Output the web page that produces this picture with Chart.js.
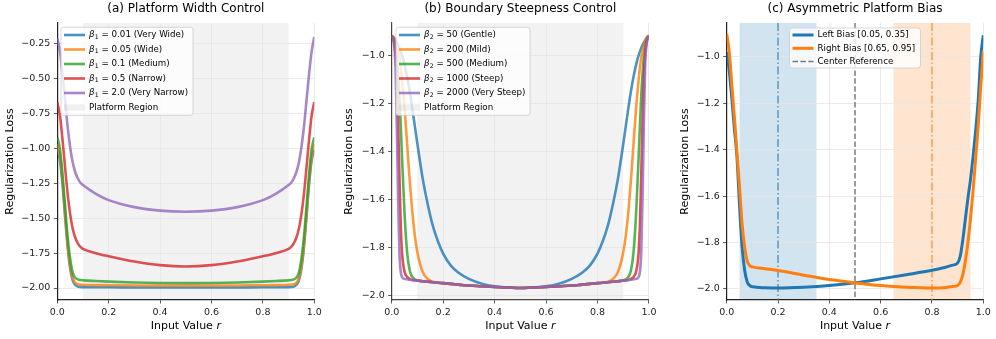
<!DOCTYPE html>
<html>
<head>
<meta charset="utf-8">
<title>Regularization loss panels</title>
<script src="https://cdn.jsdelivr.net/npm/chart.js@4.4.1/dist/chart.umd.min.js"></script>
<style>
  html, body { margin: 0; padding: 0; background: #fff; }
  #wrap { position: relative; width: 996px; height: 339px; }
  canvas { position: absolute; top: 0; }
</style>
</head>
<body>
<div id="wrap">
  <canvas id="panelA" width="330" height="339" style="left:0"></canvas>
  <canvas id="panelB" width="330" height="339" style="left:330px"></canvas>
  <canvas id="panelC" width="336" height="339" style="left:660px"></canvas>
</div>
<script>
// ---- data ----
const xTicks = [0, 0.2, 0.4, 0.6, 0.8, 1.0];
const yTicksA = [-2.0, -1.75, -1.5, -1.25, -1.0, -0.75, -0.5, -0.25];
const yTicksBC = [-2.0, -1.8, -1.6, -1.4, -1.2, -1.0];
const platformRange = [0.1, 0.9];

// (a) platform width
const betaOneVals = ['0.01', '0.05', '0.1', '0.5', '2.0'];
const betaOneNames = ['Very Wide', 'Wide', 'Medium', 'Narrow', 'Very Narrow'];
const rA = [0, 0.01, 0.02, 0.03, 0.04, 0.05, 0.06, 0.07, 0.08, 0.09, 0.1, 0.15, 0.2, 0.3, 0.4, 0.5,
            0.6, 0.7, 0.8, 0.85, 0.9, 0.91, 0.92, 0.93, 0.94, 0.95, 0.96, 0.97, 0.98, 0.99, 1.0];
const lossA001 = [-1.01, -1.08, -1.25, -1.48, -1.70, -1.86, -1.945, -1.978, -1.99, -1.993, -1.994, -1.995, -1.995, -1.996, -1.996, -1.996,
                  -1.996, -1.996, -1.995, -1.995, -1.994, -1.993, -1.99, -1.978, -1.945, -1.86, -1.70, -1.48, -1.25, -1.08, -1.01];
const lossA005 = [-0.97, -1.05, -1.22, -1.46, -1.68, -1.84, -1.93, -1.963, -1.973, -1.976, -1.977, -1.979, -1.98, -1.982, -1.983, -1.983,
                  -1.983, -1.982, -1.98, -1.979, -1.977, -1.976, -1.973, -1.963, -1.93, -1.84, -1.68, -1.46, -1.22, -1.05, -0.97];
const lossA01 = [-0.92, -1.0, -1.18, -1.41, -1.63, -1.79, -1.89, -1.926, -1.938, -1.943, -1.945, -1.95, -1.954, -1.96, -1.964, -1.965,
                 -1.964, -1.96, -1.954, -1.95, -1.945, -1.943, -1.938, -1.926, -1.89, -1.79, -1.63, -1.41, -1.18, -1.0, -0.92];
const lossA05 = [-0.667, -0.76, -0.93, -1.13, -1.32, -1.47, -1.575, -1.64, -1.68, -1.705, -1.72, -1.75, -1.772, -1.81, -1.836, -1.846,
                 -1.836, -1.81, -1.772, -1.75, -1.72, -1.705, -1.68, -1.64, -1.575, -1.47, -1.32, -1.13, -0.93, -0.76, -0.667];
const lossA20 = [-0.21, -0.3, -0.46, -0.65, -0.84, -0.99, -1.1, -1.17, -1.215, -1.245, -1.262, -1.325, -1.37, -1.42, -1.445, -1.453,
                 -1.445, -1.42, -1.37, -1.325, -1.262, -1.245, -1.215, -1.17, -1.1, -0.99, -0.84, -0.65, -0.46, -0.3, -0.2];

// (b) boundary steepness
const betaTwoVals = ['50', '200', '500', '1000', '2000'];
const betaTwoNames = ['Gentle', 'Mild', 'Medium', 'Steep', 'Very Steep'];
const rB = [0, 0.005, 0.01, 0.015, 0.02, 0.025, 0.03, 0.035, 0.04, 0.05, 0.06, 0.07, 0.08, 0.09, 0.1, 0.12, 0.14, 0.16, 0.18, 0.2, 0.23, 0.26, 0.3, 0.35, 0.4, 0.5,
            0.6, 0.65, 0.7, 0.74, 0.77, 0.8, 0.82, 0.84, 0.86, 0.88, 0.9, 0.91, 0.92, 0.93, 0.94, 0.95, 0.96, 0.965, 0.97, 0.975, 0.98, 0.985, 0.99, 0.995, 1.0];
const lossB50 = [-0.92, -0.924, -0.93, -0.938, -0.948, -0.958, -0.97, -0.984, -1.0, -1.04, -1.09, -1.15, -1.22, -1.295, -1.37, -1.51, -1.62, -1.71, -1.775, -1.825, -1.875, -1.905, -1.93, -1.95, -1.961, -1.968,
                 -1.961, -1.95, -1.93, -1.905, -1.875, -1.825, -1.775, -1.71, -1.62, -1.51, -1.37, -1.295, -1.22, -1.15, -1.09, -1.04, -1.0, -0.984, -0.97, -0.958, -0.948, -0.938, -0.93, -0.924, -0.92];
const lossB200 = [-0.92, -0.922, -0.93, -0.945, -0.96, -0.98, -1.01, -1.05, -1.1, -1.22, -1.37, -1.52, -1.65, -1.75, -1.82, -1.9, -1.93, -1.942, -1.946, -1.948, -1.951, -1.954, -1.958, -1.961, -1.964, -1.968,
                  -1.964, -1.961, -1.958, -1.954, -1.951, -1.948, -1.946, -1.942, -1.93, -1.9, -1.82, -1.75, -1.65, -1.52, -1.37, -1.22, -1.1, -1.05, -1.01, -0.98, -0.96, -0.945, -0.93, -0.922, -0.92];
const lossB500 = [-0.92, -0.925, -0.94, -0.97, -1.01, -1.08, -1.17, -1.29, -1.42, -1.66, -1.82, -1.895, -1.922, -1.932, -1.937, -1.94, -1.942, -1.944, -1.946, -1.948, -1.951, -1.954, -1.958, -1.961, -1.964, -1.968,
                  -1.964, -1.961, -1.958, -1.954, -1.951, -1.948, -1.946, -1.944, -1.942, -1.94, -1.937, -1.932, -1.922, -1.895, -1.82, -1.66, -1.42, -1.29, -1.17, -1.08, -1.01, -0.97, -0.94, -0.925, -0.92];
const lossB1000 = [-0.92, -0.93, -0.95, -1.0, -1.1, -1.28, -1.5, -1.7, -1.82, -1.9, -1.922, -1.93, -1.935, -1.936, -1.937, -1.94, -1.942, -1.944, -1.946, -1.948, -1.951, -1.954, -1.958, -1.961, -1.964, -1.968,
                   -1.964, -1.961, -1.958, -1.954, -1.951, -1.948, -1.946, -1.944, -1.942, -1.94, -1.937, -1.936, -1.935, -1.93, -1.922, -1.9, -1.82, -1.7, -1.5, -1.28, -1.1, -1.0, -0.95, -0.93, -0.92];
const lossB2000 = [-0.92, -0.93, -0.96, -1.05, -1.3, -1.6, -1.82, -1.9, -1.922, -1.93, -1.932, -1.934, -1.935, -1.936, -1.937, -1.94, -1.942, -1.944, -1.946, -1.948, -1.951, -1.954, -1.958, -1.961, -1.964, -1.968,
                   -1.964, -1.961, -1.958, -1.954, -1.951, -1.948, -1.946, -1.944, -1.942, -1.94, -1.937, -1.936, -1.935, -1.934, -1.932, -1.93, -1.922, -1.9, -1.82, -1.6, -1.3, -1.05, -0.96, -0.93, -0.92];

// (c) asymmetric platform
const biasLabels = ['Left Bias [0.05, 0.35]', 'Right Bias [0.65, 0.95]', 'Center Reference'];
const leftBiasRange = [0.05, 0.35];
const rightBiasRange = [0.65, 0.95];
const biasCenters = [0.2, 0.8];
const centerRef = 0.5;
const rC = [0, 0.01, 0.02, 0.03, 0.04, 0.05, 0.06, 0.07, 0.08, 0.09, 0.1, 0.15, 0.2, 0.3, 0.4, 0.5,
            0.6, 0.7, 0.8, 0.85, 0.88, 0.9, 0.91, 0.92, 0.93, 0.94, 0.95, 0.96, 0.97, 0.98, 0.99, 1.0];
const lossLeftBias = [-0.98, -1.06, -1.18, -1.31, -1.43, -1.64, -1.82, -1.92, -1.97, -1.986, -1.991, -1.995, -1.996, -1.993, -1.986, -1.974,
                      -1.957, -1.939, -1.92, -1.908, -1.898, -1.888, -1.86, -1.79, -1.7, -1.61, -1.53, -1.43, -1.32, -1.19, -1.0, -0.907];
const lossRightBias = [-0.9, -0.98, -1.12, -1.26, -1.41, -1.56, -1.72, -1.82, -1.88, -1.9, -1.905, -1.913, -1.921, -1.941, -1.96, -1.974,
                       -1.986, -1.993, -1.996, -1.995, -1.99, -1.985, -1.972, -1.94, -1.88, -1.8, -1.7, -1.58, -1.44, -1.3, -1.13, -0.975];

// ---- helpers ----
Chart.defaults.font.family = "'DejaVu Sans', sans-serif";
Chart.defaults.color = '#222';
const FAM = "'DejaVu Sans', sans-serif";
const tab = ['#1f77b4', '#ff7f0e', '#2ca02c', '#d62728', '#9467bd'];

function rgba(hex, a) {
  const n = parseInt(hex.slice(1), 16);
  return 'rgba(' + (n >> 16) + ',' + ((n >> 8) & 255) + ',' + (n & 255) + ',' + a + ')';
}
function fmtTick(v, d) {
  return (v < 0 ? '\u2212' : '') + Math.abs(v).toFixed(d);
}
function pts(xs, ys) {
  return xs.map((x, i) => ({ x: x, y: ys[i] }));
}

// shaded x-ranges, drawn under the grid
const shadePlugin = {
  id: 'shade',
  beforeDraw(chart, args, opts) {
    const { ctx, chartArea: a } = chart;
    const x = chart.scales.x;
    (opts.spans || []).forEach(s => {
      const x0 = x.getPixelForValue(s.from), x1 = x.getPixelForValue(s.to);
      ctx.save();
      ctx.fillStyle = s.color;
      ctx.fillRect(x0, a.top, x1 - x0, a.bottom - a.top);
      ctx.restore();
    });
  }
};

// vertical reference lines
const vlinePlugin = {
  id: 'vlines',
  beforeDatasetsDraw(chart, args, opts) {
    const { ctx, chartArea: a } = chart;
    const x = chart.scales.x;
    (opts.lines || []).forEach(l => {
      const px = x.getPixelForValue(l.at);
      ctx.save();
      ctx.strokeStyle = l.color;
      ctx.lineWidth = l.width;
      ctx.setLineDash(l.dash);
      ctx.beginPath();
      ctx.moveTo(px, a.top);
      ctx.lineTo(px, a.bottom);
      ctx.stroke();
      ctx.restore();
    });
  }
};

// framed legend inside the axes
const boxLegendPlugin = {
  id: 'boxLegend',
  afterDraw(chart, args, o) {
    if (!o.items) return;
    const { ctx, chartArea: a } = chart;
    const left = o.center ? (a.left + a.right) / 2 - o.w / 2 : a.left + o.dx;
    const top = a.top + o.dy;
    ctx.save();
    ctx.fillStyle = 'rgba(255,255,255,0.8)';
    ctx.strokeStyle = '#cccccc';
    ctx.lineWidth = 0.8;
    ctx.beginPath();
    ctx.roundRect(left, top, o.w, o.h, 2.5);
    ctx.fill();
    ctx.stroke();
    o.items.forEach((it, i) => {
      const cy = top + o.first + i * o.step;
      if (it.kind === 'patch') {
        ctx.fillStyle = it.color;
        ctx.fillRect(left + 3, cy - 3.2, 21, 6.4);
      } else {
        ctx.strokeStyle = it.color;
        ctx.lineWidth = it.width;
        ctx.setLineDash(it.dash || []);
        ctx.beginPath();
        ctx.moveTo(left + 3, cy);
        ctx.lineTo(left + 24, cy);
        ctx.stroke();
        ctx.setLineDash([]);
      }
      ctx.fillStyle = '#000';
      ctx.textBaseline = 'middle';
      ctx.textAlign = 'left';
      let tx = left + 28;
      if (it.sym) {
        ctx.font = 'italic 8.7px ' + FAM;
        ctx.fillText(it.sym, tx, cy);
        tx += ctx.measureText(it.sym).width;
        ctx.font = '6.2px ' + FAM;
        ctx.fillText(it.sub, tx + 0.3, cy + 2.3);
        tx += ctx.measureText(it.sub).width + 0.3;
      }
      ctx.font = '8.7px ' + FAM;
      ctx.fillText(it.text, tx, cy);
    });
    ctx.restore();
  }
};

// x-axis title with an italic r
const xTitlePlugin = {
  id: 'xTitle',
  afterDraw(chart) {
    const { ctx, chartArea: a } = chart;
    const plain = 'Input Value ', ital = 'r';
    ctx.save();
    ctx.font = '11px ' + FAM;
    const w1 = ctx.measureText(plain).width;
    ctx.font = 'italic 11px ' + FAM;
    const w2 = ctx.measureText(ital).width;
    let x0 = (a.left + a.right) / 2 - (w1 + w2) / 2;
    ctx.fillStyle = '#000';
    ctx.textBaseline = 'middle';
    ctx.textAlign = 'left';
    ctx.font = '11px ' + FAM;
    ctx.fillText(plain, x0, 326);
    ctx.font = 'italic 11px ' + FAM;
    ctx.fillText(ital, x0 + w1, 326);
    ctx.restore();
  }
};

function buildPanel(id, o) {
  return new Chart(document.getElementById(id), {
    type: 'line',
    data: { datasets: o.datasets },
    options: {
      responsive: false,
      animation: false,
      events: [],
      layout: { padding: { left: o.padLeft, right: o.padRight, top: 0, bottom: 0 } },
      elements: { point: { radius: 0 } },
      scales: {
        x: {
          type: 'linear', min: 0, max: 1,
          afterBuildTicks: s => { s.ticks = xTicks.map(v => ({ value: v })); },
          afterFit: s => { s.height = 39; },
          ticks: { font: { size: 9.5 }, color: '#222', padding: 3.5, maxRotation: 0, autoSkip: false,
                   callback: v => fmtTick(v, 1) },
          grid: { color: '#e6e6e6', lineWidth: 0.8, tickColor: '#333', tickLength: 3.5 },
          border: { color: o.spine, width: 1.2 }
        },
        y: {
          type: 'linear', min: o.yMin, max: o.yMax,
          afterBuildTicks: s => { s.ticks = o.yTicks.map(v => ({ value: v })); },
          afterFit: s => { s.width = o.yWidth; },
          ticks: { font: { size: 9.5 }, color: '#222', padding: 3.5, autoSkip: false,
                   callback: v => fmtTick(v, o.yDec) },
          grid: { color: '#e6e6e6', lineWidth: 0.8, tickColor: '#333', tickLength: 3.5 },
          border: { color: o.spine, width: 1.2 },
          title: { display: true, text: 'Regularization Loss', font: { size: 11 }, color: '#000', padding: 0 }
        }
      },
      plugins: {
        legend: { display: false },
        tooltip: { enabled: false },
        title: { display: true, text: o.title, font: { size: 12, weight: 'normal' }, color: '#000',
                 fullSize: false, padding: { top: 1.6, bottom: 7 } },
        shade: { spans: o.spans },
        vlines: { lines: o.vlines || [] },
        boxLegend: o.legend
      }
    },
    plugins: [shadePlugin, vlinePlugin, boxLegendPlugin, xTitlePlugin]
  });
}

function curve(xs, ys, color, width, i, n) {
  return {
    data: pts(xs, ys), borderColor: color, borderWidth: width, fill: false,
    cubicInterpolationMode: 'monotone', pointRadius: 0, order: n - i
  };
}

const platformShade = 'rgba(128,128,128,0.1)';

// ---- (a) ----
const seriesA = [lossA001, lossA005, lossA01, lossA05, lossA20];
buildPanel('panelA', {
  title: '(a) Platform Width Control',
  datasets: seriesA.map((ys, i) => curve(rA, ys, rgba(tab[i], 0.8), 2.6, i, seriesA.length)),
  yMin: -2.086, yMax: -0.1, yTicks: yTicksA, yDec: 2,
  padLeft: 3.9, yWidth: 53.4, padRight: 15.7, spine: '#222',
  spans: [{ from: platformRange[0], to: platformRange[1], color: platformShade }],
  legend: {
    dx: 3.7, dy: 4.3, w: 132, h: 88, first: 7.7, step: 14.5,
    items: betaOneVals.map((v, i) => ({ kind: 'line', color: rgba(tab[i], 0.8), width: 2.6,
      sym: '\u03b2', sub: '1', text: ' = ' + v + ' (' + betaOneNames[i] + ')' }))
      .concat([{ kind: 'patch', color: 'rgba(128,128,128,0.12)', text: 'Platform Region' }])
  }
});

// ---- (b) ----
const seriesB = [lossB50, lossB200, lossB500, lossB1000, lossB2000];
buildPanel('panelB', {
  title: '(b) Boundary Steepness Control',
  datasets: seriesB.map((ys, i) => curve(rB, ys, rgba(tab[i], 0.8), 2.6, i, seriesB.length)),
  yMin: -2.018, yMax: -0.866, yTicks: yTicksBC, yDec: 1,
  padLeft: 12.9, yWidth: 48.8, padRight: 11, spine: '#444',
  spans: [{ from: platformRange[0], to: platformRange[1], color: platformShade }],
  legend: {
    dx: 4.3, dy: 4.3, w: 134, h: 88, first: 7.7, step: 14.5,
    items: betaTwoVals.map((v, i) => ({ kind: 'line', color: rgba(tab[i], 0.8), width: 2.6,
      sym: '\u03b2', sub: '2', text: ' = ' + v + ' (' + betaTwoNames[i] + ')' }))
      .concat([{ kind: 'patch', color: 'rgba(128,128,128,0.12)', text: 'Platform Region' }])
  }
});

// ---- (c) ----
const seriesC = [lossLeftBias, lossRightBias];
buildPanel('panelC', {
  title: '(c) Asymmetric Platform Bias',
  datasets: seriesC.map((ys, i) => curve(rC, ys, tab[i], 3, i, seriesC.length)),
  yMin: -2.048, yMax: -0.854, yTicks: yTicksBC, yDec: 1,
  padLeft: 18.9, yWidth: 47.8, padRight: 12.7, spine: '#222',
  spans: [
    { from: leftBiasRange[0], to: leftBiasRange[1], color: rgba(tab[0], 0.2) },
    { from: rightBiasRange[0], to: rightBiasRange[1], color: rgba(tab[1], 0.2) }
  ],
  vlines: [
    { at: biasCenters[0], color: rgba(tab[0], 0.7), width: 1.5, dash: [8, 2.5, 1.5, 2.5] },
    { at: biasCenters[1], color: rgba(tab[1], 0.7), width: 1.5, dash: [8, 2.5, 1.5, 2.5] },
    { at: centerRef, color: 'rgba(100,100,100,0.85)', width: 1.5, dash: [5.5, 2.4] }
  ],
  legend: {
    center: true, dy: 5, w: 131, h: 40, first: 7, step: 13.3,
    items: [
      { kind: 'line', color: tab[0], width: 3, text: biasLabels[0] },
      { kind: 'line', color: tab[1], width: 3, text: biasLabels[1] },
      { kind: 'line', color: 'rgba(100,100,100,0.85)', width: 1.5, dash: [5.5, 2.4], text: biasLabels[2] }
    ]
  }
});
</script>
</body>
</html>
